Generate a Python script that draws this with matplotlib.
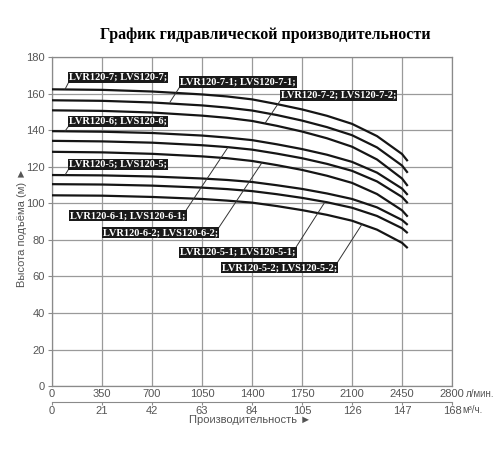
import numpy as np
import matplotlib.pyplot as plt

# === Data ===
flow = [0, 350, 700, 1050, 1225, 1400, 1575, 1750, 1925, 2100, 2275, 2450, 2490]  # л/мин

head_7 = [162.4, 162.1, 161.2, 159.6, 158.5, 156.9, 154.3, 151.4, 147.9, 143.5, 136.8, 127.0, 123.1]
head_7_1 = [156.4, 156.1, 155.2, 153.6, 152.4, 150.8, 148.3, 145.3, 141.7, 137.3, 130.6, 120.7, 116.7]
head_7_2 = [150.9, 150.6, 149.7, 148.0, 146.8, 145.1, 142.4, 139.3, 135.6, 131.0, 124.0, 113.6, 109.5]
head_6 = [139.5, 139.2, 138.5, 137.1, 136.0, 134.6, 132.3, 129.7, 126.6, 122.7, 116.8, 108.1, 104.6]
head_6_1 = [134.2, 133.9, 133.2, 131.8, 130.8, 129.4, 127.2, 124.7, 121.6, 117.8, 112.0, 103.5, 100.1]
head_6_2 = [128.2, 127.9, 127.1, 125.7, 124.7, 123.2, 120.9, 118.3, 115.1, 111.2, 105.1, 96.2, 92.7]
head_5 = [115.5, 115.3, 114.7, 113.6, 112.8, 111.7, 109.9, 107.9, 105.4, 102.4, 97.8, 90.9, 88.2]
head_5_1 = [110.5, 110.3, 109.7, 108.6, 107.8, 106.7, 105.0, 103.0, 100.6, 97.6, 93.1, 86.4, 83.7]
head_5_2 = [104.4, 104.2, 103.5, 102.4, 101.5, 100.4, 98.5, 96.3, 93.7, 90.5, 85.6, 78.4, 75.5]

curves = [head_7, head_7_1, head_7_2, head_6, head_6_1, head_6_2, head_5, head_5_1, head_5_2]

labels = ["LVR120-7; LVS120-7;", "LVR120-7-1; LVS120-7-1;", "LVR120-7-2; LVS120-7-2;",
          "LVR120-6; LVS120-6;", "LVR120-6-1; LVS120-6-1;", "LVR120-6-2; LVS120-6-2;",
          "LVR120-5; LVS120-5;", "LVR120-5-1; LVS120-5-1;", "LVR120-5-2; LVS120-5-2;"]

x_ticks = [0, 350, 700, 1050, 1400, 1750, 2100, 2450, 2800]
y_ticks = [0, 20, 40, 60, 80, 100, 120, 140, 160, 180]
m3h_ticks = [0, 21, 42, 63, 84, 105, 126, 147, 168]

# === Figure ===
fig = plt.figure(figsize=(5, 4.5), dpi=100)
ax = fig.add_axes([0.104, 0.142, 0.8, 0.731])

for h in curves:
    ax.plot(flow, h, color='#151515', linewidth=1.6, solid_capstyle='butt',
            solid_joinstyle='round', zorder=3)

ax.set_xlim(0, 2800)
ax.set_ylim(0, 180)
ax.set_xticks(x_ticks)
ax.set_yticks(y_ticks)
ax.grid(True, color='#9a9a9a', linewidth=0.9)
ax.set_axisbelow(True)
for s in ax.spines.values():
    s.set_color('#8a8a8a')
    s.set_linewidth(0.9)

sans = ['Liberation Sans', 'DejaVu Sans']
serif = ['Liberation Serif', 'DejaVu Serif']
ax.tick_params(axis='y', length=3, color='#8a8a8a', labelcolor='#555555', pad=2)
ax.tick_params(axis='x', length=0, labelcolor='#555555', pad=2)
for lab in ax.get_xticklabels() + ax.get_yticklabels():
    lab.set_fontfamily(sans)
    lab.set_fontsize(8)

# second flow axis in m3/h
sec = ax.secondary_xaxis(-0.0475, functions=(lambda q: q * 0.06, lambda m: m / 0.06))
sec.set_xticks(m3h_ticks)
sec.spines['bottom'].set_color('#8a8a8a')
sec.tick_params(axis='x', length=2, color='#8a8a8a', labelcolor='#555555', pad=1)
for lab in sec.get_xticklabels():
    lab.set_fontfamily(sans)
    lab.set_fontsize(8)

ax.text(1.035, -0.025, "л/мин.", transform=ax.transAxes, ha='left', va='center',
        fontsize=7, color='#555555', family=sans)
ax.text(1.027, -0.072, "м³/ч.", transform=ax.transAxes, ha='left', va='center',
        fontsize=7, color='#555555', family=sans)
ax.text(0.495, -0.102, "Производительность ►", transform=ax.transAxes, ha='center',
        va='center', fontsize=8, color='#555555', family=sans)
ax.text(-0.075, 0.482, "Высота подъёма (м) ►", transform=ax.transAxes, ha='center',
        va='center', rotation=90, fontsize=8, color='#555555', family=sans)

fig.text(0.53, 0.922, "График гидравлической производительности", ha='center', va='center',
         fontsize=11.5, fontweight='bold', family=serif)

# === Curve labels (text position, leader tip, attach corner) ===
label_pos = [(119, 169.1), (896, 166.4), (1601, 159.1), (119, 145.0), (126, 93.3),
             (357, 83.8), (119, 121.5), (896, 73.1), (1188, 64.8)]
tips = [(91, 162.4), (826, 155.4), (1491, 143.8), (91, 139.5), (1232, 130.7),
        (1470, 122.3), (91, 115.5), (1911, 100.8), (2170, 88.6)]
corner = [(0, 0), (0, 0), (0, 0), (0, 0), (1, 1), (1, 1), (0, 0), (1, 1), (1, 1)]

for text, pos, tip, rp in zip(labels, label_pos, tips, corner):
    ax.annotate(text, xy=tip, xytext=pos, ha='left', va='center', color='white',
                fontsize=7.5, fontweight='bold', family=serif,
                bbox=dict(boxstyle='square,pad=0.1', fc='#1a1a1a', ec='none'),
                arrowprops=dict(arrowstyle='-', color='#333333', lw=0.7, relpos=rp,
                                shrinkA=0, shrinkB=0),
                zorder=5)

fig.savefig("out.png", dpi=100)
